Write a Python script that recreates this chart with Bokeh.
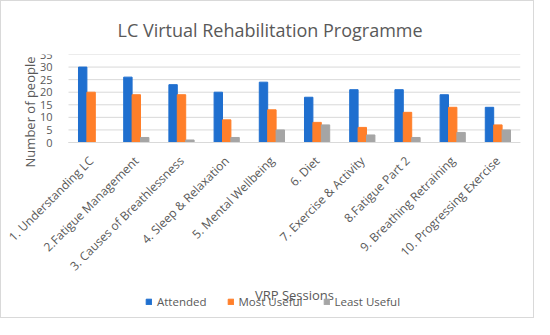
import math
from bokeh.plotting import figure
from bokeh.models import (Range1d, Legend, LegendItem, ColumnDataSource, FixedTicker, Label)
from bokeh.transform import dodge
from bokeh.embed import file_html
from bokeh.resources import INLINE

sessions = ["1. Understanding LC", "2.Fatigue Management", "3. Causes of Breathlessness",
            "4. Sleep & Relaxation", "5. Mental Wellbeing", "6. Diet", "7. Exercise & Activity",
            "8.Fatigue Part 2", "9. Breathing Retraining", "10. Progressing Exercise"]
attended = [30, 26, 23, 20, 24, 18, 21, 21, 19, 14]
most_useful = [20, 19, 19, 9, 13, 8, 6, 12, 14, 7]
least_useful = [0, 2, 1, 2, 5, 7, 3, 2, 4, 5]
y_ticks = [0, 5, 10, 15, 20, 25, 30, 35]

FONT = "Open Sans"
TXT = "#595959"
GRID = "#d9d9d9"

n = len(sessions)
pos = list(range(n))                     # category slots on the x scale
CAT_PX = 45.2                            # pixel width of one category slot
LEFT_PX = 67                             # room left of the value area (y labels)
VAL_H = 88                               # pixel height of 0..35
FRAME_H = 263
FRAME_W = int(round(n * CAT_PX + LEFT_PX))
y_max = y_ticks[-1]
y_min = y_max - y_max * FRAME_H / VAL_H
x_lo = -0.5 - LEFT_PX / CAT_PX
x_hi = n - 0.5

src = ColumnDataSource(dict(x=pos, a=attended, m=most_useful, l=least_useful))

p = figure(frame_width=FRAME_W, frame_height=FRAME_H,
           x_range=Range1d(x_lo, x_hi), y_range=Range1d(y_min, y_max),
           output_backend="svg", toolbar_location=None,
           min_border_left=0, min_border_right=13, min_border_top=53, min_border_bottom=0)
p.styles = {"border": "1px solid #d9d9d9"}
p.outline_line_color = None
p.xgrid.grid_line_color = None
p.ygrid.grid_line_color = None

p.title.text = "LC Virtual Rehabilitation Programme"
p.title.align = "left"
p.title.offset = 116
p.title.standoff = 26
p.title.text_font = FONT
p.title.text_font_size = "18px"
p.title.text_font_style = "normal"
p.title.text_color = TXT

# horizontal gridlines at the y ticks, over the value area only
p.segment(x0=-0.5, x1=n - 0.5, y0=y_ticks, y1=y_ticks, line_color=GRID, line_width=1)

w = 0.186
r1 = p.vbar(x=dodge("x", -w), top="a", width=w, source=src, color="#1F6FCF")
r2 = p.vbar(x=dodge("x", 0), top="m", width=w, source=src, color="#FF7F2A")
r3 = p.vbar(x=dodge("x", w), top="l", width=w, source=src, color="#A5A5A5")

for ax in (p.xaxis, p.yaxis):
    ax.major_tick_line_color = None
    ax.minor_tick_line_color = None
    ax.major_label_text_font = FONT
    ax.major_label_text_color = TXT
    ax.axis_label_text_font = FONT
    ax.axis_label_text_color = TXT
    ax.axis_label_text_font_style = "normal"
    ax.axis_label_text_font_size = "13px"

p.yaxis.fixed_location = -0.5
p.yaxis.ticker = FixedTicker(ticks=y_ticks)
p.yaxis.axis_line_color = None
p.yaxis.major_label_text_font_size = "11px"
p.yaxis.major_label_standoff = 10

p.add_layout(Label(x=-0.5, y=y_max, x_offset=-39, y_offset=-2, angle=math.pi / 2,
                   text="Number of people", text_align="right", text_baseline="middle",
                   text_font=FONT, text_font_size="13px", text_color=TXT))

p.xaxis.fixed_location = 0
p.xaxis.bounds = (-0.5, n - 0.5)
p.xaxis.ticker = FixedTicker(ticks=pos)
p.xaxis.major_label_overrides = {i: s for i, s in zip(pos, sessions)}
p.xaxis.axis_line_color = GRID
p.xaxis.major_label_text_font_size = "12px"
p.xaxis.major_label_orientation = math.pi / 4
p.xaxis.major_label_standoff = 10
p.xaxis.axis_label = "VRP Sessions"
p.xaxis.axis_label_standoff = 3

legend = Legend(items=[LegendItem(label="Attended", renderers=[r1]),
                       LegendItem(label="Most Useful", renderers=[r2]),
                       LegendItem(label="Least Useful", renderers=[r3])],
                orientation="horizontal", location=(144, 8),
                glyph_width=7, glyph_height=7, label_standoff=5, spacing=20,
                label_text_font=FONT, label_text_font_size="11.5px", label_text_color=TXT,
                label_height=14, padding=0, margin=0, border_line_color=None,
                background_fill_alpha=0)
p.add_layout(legend, "center")

open("out.html", "w").write(file_html(p, INLINE))
